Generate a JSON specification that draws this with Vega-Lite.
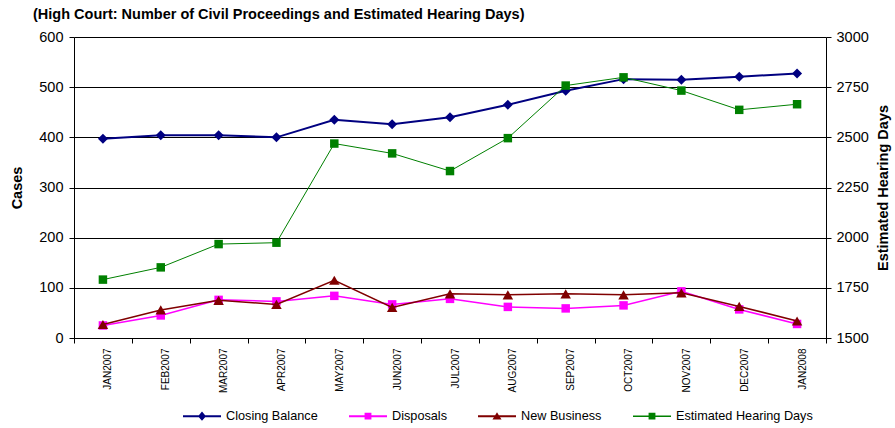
{
  "$schema": "https://vega.github.io/schema/vega-lite/v6.json",
  "width": 752,
  "height": 301,
  "autosize": {"type": "none"},
  "padding": {"left": 74, "top": 37, "right": 69, "bottom": 90},
  "background": "white",
  "title": {
    "text": "(High Court: Number of Civil Proceedings and Estimated Hearing Days)",
    "anchor": "start",
    "frame": "group",
    "dx": -41,
    "offset": -4,
    "baseline": "alphabetic",
    "fontSize": 14.5,
    "fontWeight": "bold",
    "font": "Liberation Sans",
    "color": "#000"
  },
  "datasets": {
    "d": [
      {"month": "JAN2007", "cb": 397, "disp": 25, "nb": 27, "ehd": 1791},
      {"month": "FEB2007", "cb": 404, "disp": 45, "nb": 56, "ehd": 1852},
      {"month": "MAR2007", "cb": 404, "disp": 76, "nb": 75, "ehd": 1968},
      {"month": "APR2007", "cb": 400, "disp": 73, "nb": 67, "ehd": 1975},
      {"month": "MAY2007", "cb": 435, "disp": 84, "nb": 115, "ehd": 2469},
      {"month": "JUN2007", "cb": 426, "disp": 67, "nb": 61, "ehd": 2420},
      {"month": "JUL2007", "cb": 440, "disp": 78, "nb": 88, "ehd": 2332},
      {"month": "AUG2007", "cb": 465, "disp": 62, "nb": 86, "ehd": 2496},
      {"month": "SEP2007", "cb": 493, "disp": 59, "nb": 88, "ehd": 2758},
      {"month": "OCT2007", "cb": 516, "disp": 65, "nb": 86, "ehd": 2799},
      {"month": "NOV2007", "cb": 515, "disp": 93, "nb": 90, "ehd": 2733},
      {"month": "DEC2007", "cb": 521, "disp": 57, "nb": 63, "ehd": 2637},
      {"month": "JAN2008", "cb": 527, "disp": 28, "nb": 34, "ehd": 2665}
    ],
    "legend": [
      {"series": "Closing Balance"},
      {"series": "Disposals"},
      {"series": "New Business"},
      {"series": "Estimated Hearing Days"}
    ]
  },
  "config": {
    "view": {"stroke": null},
    "axis": {
      "domainColor": "#000",
      "tickColor": "#000",
      "labelColor": "#000",
      "titleColor": "#000",
      "labelFont": "Liberation Sans",
      "titleFont": "Liberation Sans",
      "gridColor": "#000",
      "gridOpacity": 1,
      "gridWidth": 1,
      "domainWidth": 1,
      "tickWidth": 1
    },
    "legend": {
      "labelFont": "Liberation Sans",
      "labelColor": "#000"
    }
  },
  "encoding": {
    "x": {
      "field": "month",
      "type": "ordinal",
      "sort": null,
      "bandPosition": 0.5,
      "scale": {
        "type": "band",
        "paddingInner": 0,
        "paddingOuter": 0,
        "domain": ["JAN2007", "FEB2007", "MAR2007", "APR2007", "MAY2007", "JUN2007", "JUL2007", "AUG2007", "SEP2007", "OCT2007", "NOV2007", "DEC2007", "JAN2008"]
      },
      "axis": {
        "title": null,
        "labelAngle": -90,
        "labelFontSize": 10,
        "tickBand": "extent",
        "tickSize": 5,
        "labelPadding": 5,
        "labelOffset": 5,
        "grid": false
      }
    }
  },
  "layer": [
    {
      "layer": [
        {
          "data": {"name": "d"},
          "mark": {"type": "line", "color": "#000080", "strokeWidth": 2},
          "encoding": {
            "y": {
              "field": "cb",
              "type": "quantitative",
              "scale": {"domain": [0, 600], "nice": false},
              "axis": {
                "title": "Cases",
                "titleFontSize": 14.5,
                "titleFontWeight": "bold",
                "labelFontSize": 14.5,
                "values": [0, 100, 200, 300, 400, 500, 600],
                "tickSize": 5,
                "labelPadding": 6,
                "titlePadding": 14,
                "grid": true
              }
            }
          }
        },
        {
          "data": {"name": "d"},
          "mark": {"type": "point", "shape": "diamond", "filled": true, "color": "#000080", "size": 100, "opacity": 1},
          "encoding": {"y": {"field": "cb", "type": "quantitative"}}
        },
        {
          "data": {"name": "d"},
          "mark": {"type": "line", "color": "#FF00FF", "strokeWidth": 1.5},
          "encoding": {"y": {"field": "disp", "type": "quantitative"}}
        },
        {
          "data": {"name": "d"},
          "mark": {"type": "point", "shape": "square", "filled": true, "color": "#FF00FF", "size": 72, "opacity": 1},
          "encoding": {"y": {"field": "disp", "type": "quantitative"}}
        },
        {
          "data": {"name": "d"},
          "mark": {"type": "line", "color": "#800000", "strokeWidth": 1.5},
          "encoding": {"y": {"field": "nb", "type": "quantitative"}}
        },
        {
          "data": {"name": "d"},
          "mark": {"type": "point", "shape": "triangle-up", "filled": true, "color": "#800000", "size": 110, "opacity": 1},
          "encoding": {"y": {"field": "nb", "type": "quantitative"}}
        },
        {
          "data": {"name": "legend"},
          "transform": [{"filter": "false"}],
          "mark": {"type": "point", "filled": true, "opacity": 1},
          "encoding": {
            "x": {"value": 0},
            "color": {
              "field": "series",
              "type": "nominal",
              "scale": {
                "domain": ["Closing Balance", "Disposals", "New Business", "Estimated Hearing Days"],
                "range": ["#000080", "#FF00FF", "#800000", "#008000"]
              },
              "legend": {
                "title": null,
                "orient": "none",
                "legendX": 109,
                "legendY": 360,
                "direction": "horizontal",
                "columns": 4,
                "labelFontSize": 12.7,
                "symbolSize": 1444,
                "symbolStrokeWidth": 0,
                "symbolOpacity": 1,
                "columnPadding": 31,
                "labelOffset": 5,
                "padding": 0
              }
            },
            "shape": {
              "field": "series",
              "type": "nominal",
              "scale": {
                "domain": ["Closing Balance", "Disposals", "New Business", "Estimated Hearing Days"],
                "range": [
                  "M-1,-0.053H-0.164L0,-0.24L0.164,-0.053H1V0.053H0.164L0,0.24L-0.164,0.053H-1Z",
                  "M-1,-0.053H-0.18V-0.18H0.18V-0.053H1V0.053H0.18V0.18H-0.18V0.053H-1Z",
                  "M-1,-0.053H-0.097L0,-0.21L0.097,-0.053H1V0.053H0.162L0.24,0.18H-0.24L-0.162,0.053H-1Z",
                  "M-1,-0.04H-0.18V-0.18H0.18V-0.04H1V0.04H0.18V0.18H-0.18V0.04H-1Z"
                ]
              },
              "legend": {
                "title": null,
                "orient": "none",
                "legendX": 109,
                "legendY": 360,
                "direction": "horizontal",
                "columns": 4,
                "labelFontSize": 12.7,
                "symbolSize": 1444,
                "symbolStrokeWidth": 0,
                "symbolOpacity": 1,
                "columnPadding": 31,
                "labelOffset": 5,
                "padding": 0
              }
            }
          }
        }
      ]
    },
    {
      "layer": [
        {
          "data": {"name": "d"},
          "mark": {"type": "line", "color": "#008000", "strokeWidth": 1},
          "encoding": {
            "y": {
              "field": "ehd",
              "type": "quantitative",
              "scale": {"domain": [1500, 3000], "nice": false, "zero": false},
              "axis": {
                "orient": "right",
                "title": "Estimated Hearing Days",
                "titleAngle": 270,
                "titleBaseline": "top",
                "titleFontSize": 14.5,
                "titleFontWeight": "bold",
                "labelFontSize": 14.5,
                "format": "d",
                "values": [1500, 1750, 2000, 2250, 2500, 2750, 3000],
                "tickSize": 5,
                "labelPadding": 5,
                "titlePadding": 8,
                "grid": false
              }
            }
          }
        },
        {
          "data": {"name": "d"},
          "mark": {"type": "point", "shape": "square", "filled": true, "color": "#008000", "size": 72, "opacity": 1},
          "encoding": {"y": {"field": "ehd", "type": "quantitative"}}
        }
      ]
    }
  ],
  "resolve": {"scale": {"y": "independent"}}
}
